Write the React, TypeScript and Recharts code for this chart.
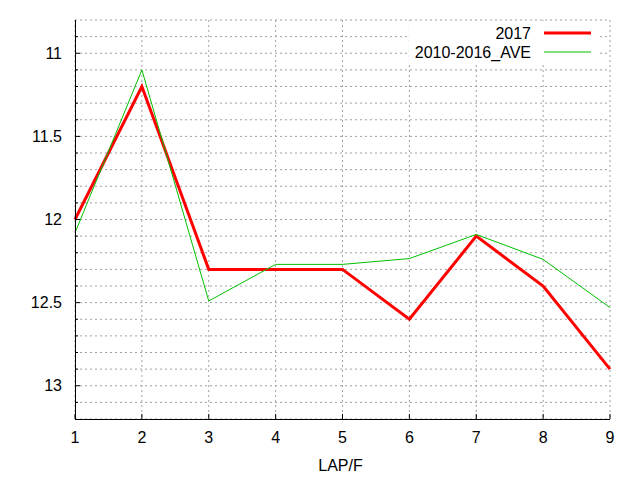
import { LineChart, Line, XAxis, YAxis, CartesianGrid, Legend } from 'recharts';

const laps = [1, 2, 3, 4, 5, 6, 7, 8, 9];
const lap2017 = [12.0, 11.2, 12.3, 12.3, 12.3, 12.6, 12.1, 12.4, 12.9];
const lapAve = [12.08, 11.1, 12.49, 12.27, 12.27, 12.235, 12.09, 12.24, 12.53];

const xTicks = [1, 2, 3, 4, 5, 6, 7, 8, 9];
const yTicks = [
  10.9, 11.0, 11.1, 11.2, 11.3, 11.4, 11.5, 11.6, 11.7, 11.8, 11.9, 12.0,
  12.1, 12.2, 12.3, 12.4, 12.5, 12.6, 12.7, 12.8, 12.9, 13.0, 13.1,
];
const yLabels = [11, 11.5, 12, 12.5, 13];

const data = laps.map((lap, i) => ({ lap, y2017: lap2017[i], ave: lapAve[i] }));

// legend order and line widths, keyed by dataKey
const seriesOrder = ['y2017', 'ave'];
const seriesWidth: Record<string, number> = { y2017: 3, ave: 1 };

const FONT = '"Liberation Sans", Arial, sans-serif';
const FS = 16;
const MAJOR = 5;
const MINOR = 3;
const isMajor = (v: number) => yLabels.some((l) => Math.abs(l - v) < 1e-6);

const YLeftTick = (props: any) => {
  const { x, y, payload } = props;
  const ax = x + 13;
  const major = isMajor(payload.value);
  return (
    <g>
      <line x1={ax} x2={ax + (major ? MAJOR : MINOR)} y1={y} y2={y} stroke="#000" />
      {major && (
        <text x={x} y={y} dy="0.355em" textAnchor="end" fontSize={FS} fontFamily={FONT} fill="#000">
          {payload.value}
        </text>
      )}
    </g>
  );
};

const YRightTick = (props: any) => {
  const { x, y, payload } = props;
  const ax = x - 13;
  const major = isMajor(payload.value);
  return <line x1={ax} x2={ax - (major ? MAJOR : MINOR)} y1={y} y2={y} stroke="#000" />;
};

const XBottomTick = (props: any) => {
  const { x, y, payload } = props;
  const ay = y - 13;
  return (
    <g>
      <line x1={x} x2={x} y1={ay} y2={ay - MAJOR} stroke="#000" />
      <text x={x} y={y} dy="0.71em" textAnchor="middle" fontSize={FS} fontFamily={FONT} fill="#000">
        {payload.value}
      </text>
    </g>
  );
};

const XTopTick = (props: any) => {
  const { x, y } = props;
  const ay = y + 13;
  return <line x1={x} x2={x} y1={ay} y2={ay + MAJOR} stroke="#000" />;
};

const renderLegend = (props: any) => {
  const items = [...(props.payload || [])].sort(
    (a: any, b: any) => seriesOrder.indexOf(a.dataKey) - seriesOrder.indexOf(b.dataKey)
  );
  return (
    <svg width={188} height={41} style={{ display: 'block', background: '#fff' }}>
      {items.map((entry: any, i: number) => {
        const yy = 12 + i * 19;
        return (
          <g key={entry.value}>
            <text x={122} y={yy} dy="0.355em" textAnchor="end" fontSize={FS} fontFamily={FONT} fill="#000">
              {entry.value}
            </text>
            <line x1={135} x2={182} y1={yy} y2={yy} stroke={entry.color} strokeWidth={seriesWidth[entry.dataKey] ?? 1} />
          </g>
        );
      })}
    </svg>
  );
};

const axisLine = { stroke: '#000', strokeWidth: 1, shapeRendering: 'crispEdges' };

export default function App() {
  return (
    <div style={{ position: 'absolute', left: 0, top: 0, width: 640, height: 480, background: '#fff' }}>
      <LineChart width={640} height={480} data={data} margin={{ top: 20, right: 30, bottom: 0, left: 0 }}>
        <CartesianGrid stroke="#a0a0a0" strokeDasharray="2 3" />
        <XAxis
          dataKey="lap"
          type="number"
          domain={[1, 9]}
          ticks={xTicks}
          height={61}
          tickSize={0}
          tickMargin={13}
          tickLine={false}
          axisLine={axisLine}
          tick={XBottomTick}
          interval={0}
          label={{ value: 'LAP/F', position: 'insideBottom', offset: 9, dx: -2, fontSize: FS, fontFamily: FONT, fill: '#000' }}
        />
        <XAxis
          xAxisId="top"
          dataKey="lap"
          type="number"
          orientation="top"
          domain={[1, 9]}
          ticks={xTicks}
          height={0}
          tickSize={0}
          tickMargin={13}
          tickLine={false}
          axisLine={axisLine}
          tick={XTopTick}
          interval={0}
        />
        <YAxis
          type="number"
          reversed
          domain={[10.8, 13.2]}
          ticks={yTicks}
          width={75}
          tickSize={0}
          tickMargin={13}
          tickLine={false}
          axisLine={axisLine}
          tick={YLeftTick}
          interval={0}
        />
        <YAxis
          yAxisId="right"
          orientation="right"
          type="number"
          reversed
          domain={[10.8, 13.2]}
          ticks={yTicks}
          width={0}
          tickSize={0}
          tickMargin={13}
          tickLine={false}
          axisLine={axisLine}
          tick={YRightTick}
          interval={0}
        />
        <Legend
          layout="vertical"
          verticalAlign="middle"
          align="center"
          itemSorter={null as any}
          content={renderLegend}
          wrapperStyle={{ left: 409, top: 21, width: 188, height: 41 }}
        />
        <Line
          type="linear"
          dataKey="y2017"
          name="2017"
          stroke="#ff0000"
          strokeWidth={3}
          dot={false}
          isAnimationActive={false}
        />
        <Line
          type="linear"
          dataKey="ave"
          name="2010-2016_AVE"
          stroke="#00c000"
          strokeWidth={1}
          dot={false}
          isAnimationActive={false}
        />
      </LineChart>
    </div>
  );
}
